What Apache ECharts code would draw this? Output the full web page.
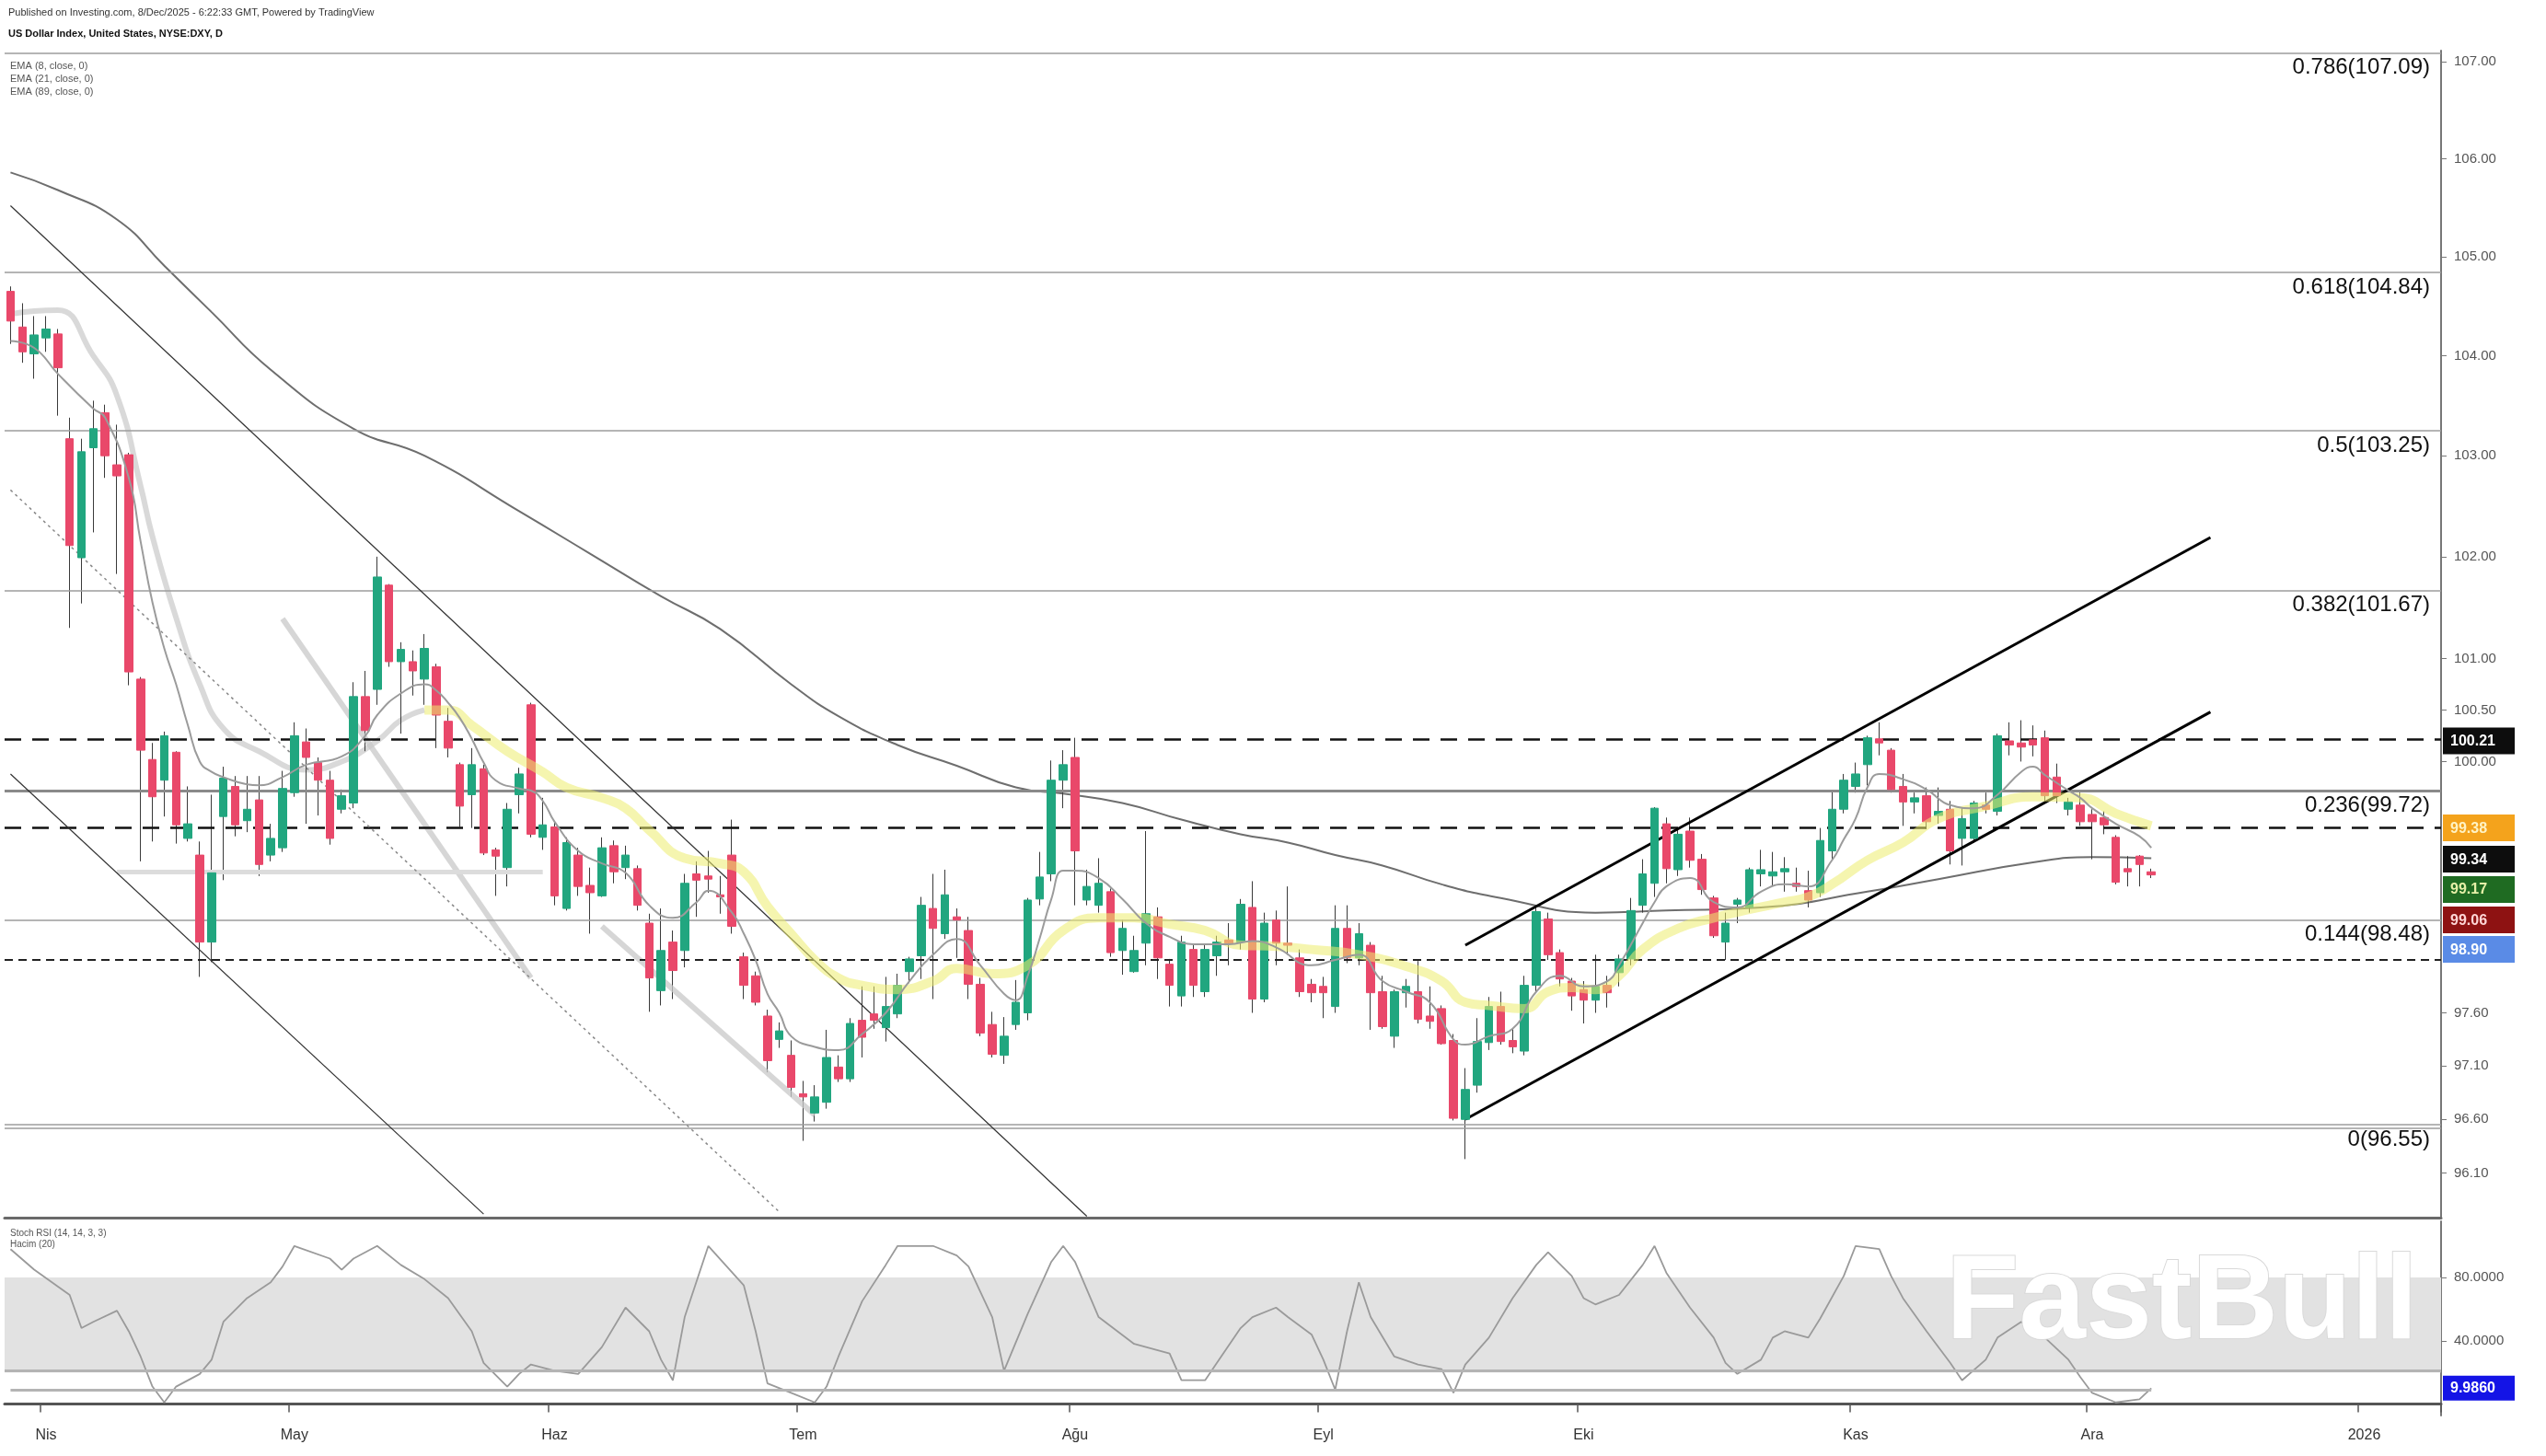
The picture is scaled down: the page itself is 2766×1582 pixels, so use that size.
<!DOCTYPE html>
<html><head><meta charset="utf-8">
<script src="https://cdn.jsdelivr.net/npm/echarts@6/dist/echarts.min.js"></script>
<style>html,body{margin:0;padding:0;background:#fff;}#c{width:2766px;height:1582px;}</style>
</head><body><div id="c"></div>
<script>
// ---------- categories ----------
const startDate = '2025-03-27';
const closedDays = ['2025-04-18'];
const slotCount = 206;
function buildDates(){
  const out=[]; let d=new Date(startDate+'T00:00:00Z');
  while(out.length<slotCount){
    const s=d.toISOString().slice(0,10), wd=d.getUTCDay();
    if(wd!==0 && wd!==6 && closedDays.indexOf(s)<0) out.push(s);
    d=new Date(d.getTime()+86400000);
  }
  return out;
}
const dates = buildDates();
const monthNames = ['Oca','Şub','Mar','Nis','May','Haz','Tem','Ağu','Eyl','Eki','Kas','Ara'];

// ---------- OHLC ----------
const opens = [
104.65,104.29,104.02,104.18,104.22,103.17,101.99,103.08,103.43,102.91,
103.01,100.80,100.02,99.82,100.09,99.26,99.10,98.27,99.47,99.76,
99.43,99.63,99.10,99.17,99.70,100.19,99.99,99.82,99.54,99.60,
100.63,100.70,101.72,100.97,100.97,100.80,100.92,100.39,99.97,99.68,
99.93,99.15,98.98,99.68,100.55,99.27,99.37,98.59,99.10,98.81,
98.71,99.19,98.98,98.97,98.45,97.81,98.27,98.19,98.92,98.90,
98.72,99.10,98.13,97.95,97.57,97.35,97.20,96.84,96.66,96.76,
97.09,96.98,97.53,97.59,97.46,97.59,97.99,98.14,98.59,98.35,
98.51,98.38,97.87,97.49,97.20,97.49,97.60,98.68,98.92,99.82,
100.04,98.67,98.62,98.75,98.19,97.99,98.26,98.51,98.06,97.76,
98.20,97.80,98.14,98.29,98.27,98.60,97.73,98.48,98.26,98.12,
97.87,97.85,97.66,98.40,98.12,98.24,97.80,97.38,97.79,97.80,
97.57,97.64,97.34,96.60,96.92,97.32,97.66,97.34,97.24,97.86,
98.49,98.17,97.90,97.82,97.72,97.86,97.98,98.11,98.62,98.83,
99.40,98.96,99.33,99.06,98.69,98.27,98.63,98.60,98.92,98.90,
98.94,98.83,98.76,98.74,99.14,99.54,99.76,99.97,100.22,100.11,
99.76,99.61,99.67,99.48,99.54,99.26,99.26,99.58,99.52,100.20,
100.18,100.21,100.23,99.85,99.54,99.58,99.49,99.46,99.27,98.97,
99.09,98.94];
const highs = [
104.70,104.53,104.40,104.40,104.27,103.38,103.17,103.55,103.51,103.31,
103.03,100.82,100.18,100.29,100.10,99.76,99.23,99.68,99.95,99.86,
99.86,99.86,99.40,99.91,100.38,100.32,100.04,99.91,99.73,100.77,
100.88,102.00,101.73,101.16,101.08,101.24,100.95,100.52,99.99,100.13,
99.97,99.17,99.60,99.94,100.57,99.65,99.41,99.27,99.17,98.98,
99.27,99.24,99.19,99.00,98.54,98.59,98.38,98.92,99.04,99.14,
98.90,99.44,98.17,97.99,97.63,97.51,97.34,96.96,96.92,97.44,
97.20,97.55,97.85,97.85,97.94,97.97,98.13,98.70,98.92,98.96,
98.59,98.51,97.93,97.61,97.56,97.91,98.69,99.13,100.01,100.11,
100.23,98.96,99.07,98.78,98.48,98.33,99.33,98.60,98.11,98.33,
98.25,98.25,98.33,98.45,98.68,98.85,98.55,98.57,98.80,98.20,
97.92,97.94,98.62,98.62,98.45,98.27,97.95,97.82,97.92,98.09,
97.85,97.67,97.40,97.08,97.55,97.75,97.80,97.45,97.95,98.60,
98.55,98.20,97.93,97.90,98.15,97.95,98.15,98.69,99.06,99.56,
99.46,99.35,99.46,99.11,98.71,98.55,98.69,98.98,99.15,99.13,
99.08,98.98,98.95,99.36,99.72,99.88,99.99,100.25,100.38,100.13,
99.88,99.70,99.75,99.75,99.62,99.55,99.62,99.70,100.27,100.38,
100.40,100.35,100.30,99.98,99.65,99.70,99.54,99.52,99.29,99.09,
99.10,98.97];
const lows = [
104.12,103.93,103.77,104.04,103.40,101.30,101.54,102.24,102.78,101.83,
100.74,99.04,99.23,99.47,99.21,99.23,97.94,98.08,98.86,99.28,
99.32,98.90,99.04,99.13,99.66,99.40,99.48,99.20,99.50,99.55,
100.10,100.55,100.92,100.27,100.64,100.55,100.13,100.04,99.37,99.36,
99.10,98.71,98.80,99.50,99.27,99.15,98.62,98.57,98.71,98.35,
98.70,98.83,98.87,98.57,97.61,97.67,97.73,98.03,98.51,98.74,
98.54,98.35,97.73,97.67,97.04,97.27,96.81,96.40,96.58,96.70,
96.95,96.95,97.18,97.45,97.33,97.55,97.88,97.92,97.73,98.30,
98.12,97.73,97.38,97.18,97.12,97.44,97.53,98.62,98.85,99.55,
98.62,98.62,98.55,98.13,97.96,97.98,98.05,97.92,97.66,97.66,
97.75,97.75,97.95,98.05,98.20,97.60,97.70,98.05,98.15,97.75,
97.70,97.55,97.60,98.07,98.05,97.44,97.45,97.27,97.65,97.50,
97.45,97.30,96.59,96.23,96.85,97.25,97.30,97.22,97.20,97.80,
98.10,97.85,97.62,97.50,97.60,97.65,97.85,98.05,98.55,98.70,
98.83,98.90,98.98,98.72,98.31,98.10,98.45,98.55,98.80,98.80,
98.75,98.75,98.60,98.70,99.05,99.50,99.70,99.77,100.06,99.70,
99.38,99.50,99.35,99.40,99.01,99.00,99.22,99.50,99.48,100.06,
100.00,100.05,99.60,99.60,99.48,99.38,99.06,99.30,98.82,98.80,
98.80,98.88];
const closes = [
104.35,104.04,104.21,104.27,103.88,102.11,103.04,103.27,103.00,102.80,
100.87,100.11,99.66,100.25,99.39,99.40,98.27,98.93,99.84,99.39,
99.54,99.01,99.26,99.74,100.25,100.04,99.82,99.26,99.67,100.63,
100.30,101.80,100.97,101.09,100.88,101.10,100.45,100.13,99.57,99.97,
99.12,99.09,99.54,99.88,99.30,99.39,98.71,99.22,98.80,98.74,
99.17,98.94,99.10,98.62,97.93,98.19,98.00,98.83,98.86,98.87,
98.70,98.42,97.86,97.70,97.15,97.43,96.90,96.81,96.81,97.18,
96.98,97.50,97.37,97.53,97.66,97.86,98.11,98.62,98.40,98.72,
98.48,97.87,97.41,97.21,97.38,97.70,98.67,98.89,99.82,99.97,
99.14,98.80,98.83,98.17,98.40,98.19,98.54,98.12,97.86,98.27,
97.86,98.20,98.27,98.26,98.63,97.73,98.45,98.26,98.24,97.80,
97.79,97.79,98.40,98.12,98.35,97.79,97.47,97.80,97.85,97.54,
97.52,97.31,96.61,96.88,97.33,97.66,97.33,97.28,97.86,98.56,
98.15,97.92,97.76,97.72,97.85,97.79,98.11,98.57,98.92,99.55,
98.97,99.30,99.05,98.77,98.33,98.45,98.67,98.96,98.96,98.94,
98.97,98.80,98.67,99.24,99.54,99.82,99.88,100.23,100.18,99.73,
99.61,99.65,99.42,99.52,99.14,99.45,99.60,99.54,100.25,100.16,
100.14,100.16,99.67,99.67,99.61,99.42,99.42,99.39,98.84,98.94,
99.01,98.91];

// ---------- indicator lines [barIndex, value] ----------
const ema8 = [[0,104.15],[2,104.08],[4,103.82],[7,103.47],[8,103.38],[10,102.78],[11,102.15],[12,101.55],[13,101.1],[14,100.75],[15,100.35],[16,100.0],[17,99.9],[18,99.85],[20,99.78],[21,99.77],[23,99.85],[25,99.97],[28,100.05],[30,100.25],[31,100.45],[33,100.66],[35,100.75],[36,100.69],[37,100.57],[38,100.42],[39,100.22],[40,99.99],[41,99.82],[43,99.74],[44,99.72],[45,99.62],[46,99.42],[48,99.14],[50,99.02],[52,98.93],[54,98.62],[56,98.50],[58,98.65],[59,98.76],[61,98.55],[62,98.35],[63,98.10],[64,97.78],[65,97.60],[66,97.38],[68,97.28],[70,97.25],[72,97.40],[74,97.60],[76,97.90],[78,98.15],[80,98.30],[82,98.05],[84,97.78],[85,97.72],[86,97.95],[87,98.30],[88,98.68],[89,98.95],[90,98.95],[92,98.88],[94,98.68],[96,98.45],[98,98.32],[100,98.25],[103,98.25],[105,98.28],[107,98.22],[110,98.05],[112,98.10],[114,98.15],[116,97.90],[118,97.80],[120,97.70],[122,97.35],[123,97.30],[125,97.38],[127,97.45],[129,97.80],[131,97.95],[133,97.85],[135,97.90],[136,98.05],[138,98.45],[139,98.65],[140,98.80],[142,98.88],[144,98.65],[146,98.60],[148,98.75],[150,98.82],[152,98.80],[154,99.05],[155,99.25],[156,99.45],[157,99.75],[158,99.88],[160,99.83],[162,99.73],[164,99.58],[166,99.55],[168,99.68],[170,99.90],[171,99.95],[172,99.87],[174,99.72],[175,99.65],[176,99.55],[178,99.40],[180,99.28],[181,99.17]];
const ema21 = [[0,104.42],[2,104.45],[4,104.46],[7,104.0],[9,103.6],[11,102.7],[12,102.2],[14,101.4],[16,100.75],[18,100.32],[21,100.1],[25,99.92],[28,100.0],[31,100.2],[33,100.4],[35,100.5],[37,100.5],[39,100.35],[42,100.1],[45,99.9],[47,99.75],[50,99.65],[52,99.55],[54,99.34],[57,99.07],[60,99.02],[62,98.94],[64,98.61],[66,98.35],[68,98.10],[70,97.93],[72,97.86],[75,97.82],[78,97.90],[80,98.02],[83,97.97],[86,98.05],[89,98.38],[92,98.50],[95,98.50],[98,98.44],[101,98.38],[104,98.24],[107,98.23],[110,98.20],[114,98.15],[118,98.04],[121,97.90],[123,97.70],[125,97.67],[128,97.64],[130,97.80],[132,97.84],[134,97.82],[136,97.95],[138,98.20],[141,98.40],[144,98.50],[147,98.58],[150,98.65],[152,98.70],[154,98.82],[157,99.05],[160,99.22],[163,99.45],[167,99.57],[171,99.66],[175,99.65],[178,99.50],[181,99.38]];
const ema89 = [[0,105.86],[4,105.68],[9,105.38],[13,104.91],[17,104.44],[22,103.86],[29,103.27],[35,103.00],[43,102.45],[49,102.03],[55,101.61],[60,101.29],[66,100.75],[70,100.44],[75,100.16],[80,99.96],[85,99.75],[89,99.69],[94,99.60],[99,99.44],[104,99.30],[108,99.22],[112,99.10],[116,99.00],[121,98.82],[126,98.69],[134,98.55],[140,98.57],[148,98.60],[157,98.75],[163,98.87],[171,99.03],[176,99.08],[181,99.07]];
const stochK = [[0,98],[2,85],[5,69],[6,48],[7,52],[9,59],[10,46],[11,30],[12,11],[13,1],[14,11],[16,19],[17,28],[18,52],[20,67],[22,77],[23,87],[24,100],[27,92],[28,85],[29,92],[31,100],[33,88],[35,79],[37,67],[39,46],[40,26],[42,11],[43,19],[44,25],[46,21],[48,19],[50,36],[52,61],[54,46],[55,28],[56,15],[57,55],[59,100],[62,75],[63,46],[64,13],[66,7],[68,1],[69,11],[70,30],[72,65],[74,88],[75,100],[78,100],[80,94],[81,87],[83,55],[84,21],[86,57],[88,90],[89,100],[90,90],[92,55],[95,38],[98,32],[99,15],[101,15],[102,26],[104,48],[105,55],[107,61],[108,55],[110,44],[111,28],[112,9],[113,46],[114,77],[115,55],[117,30],[119,25],[121,22],[122,7],[123,25],[125,42],[127,67],[129,88],[130,96],[132,81],[133,67],[134,63],[136,69],[138,88],[139,100],[140,83],[142,61],[144,42],[145,26],[146,19],[148,28],[149,42],[150,46],[152,42],[153,54],[155,81],[156,100],[158,98],[159,81],[160,67],[162,46],[164,26],[165,15],[167,28],[168,42],[170,52],[172,42],[174,28],[175,17],[176,7],[178,1],[180,3],[181,10]];

// ---------- drawn levels ----------
const fibNames  = ['0.786','0.618','0.5','0.382','0.236','0.144','0'];
const fibPrices = [107.09,104.84,103.25,101.67,99.72,98.48,96.55];
const extraSupport = 96.52;
const dashedLevels = [100.22, 99.36];
const dottedLevel = 98.10;
const shelfLine = [[9,98.94],[45,98.94]];
const downLineA = [[0,105.52],[91,95.70]];
const downLineB = [[0,99.88],[40,95.72]];
const downLineC = [[0,102.66],[65,95.74]];
const fanLine1 = [[23,101.39],[44,97.93]];
const fanLine2 = [[50,98.42],[68,96.64]];
const upLower = [[123,96.60],[186,100.48]];
const upUpper = [[123,98.24],[186,102.19]];
const priceTicks = [107,106,105,104,103,102,101,100.5,100,97.6,97.1,96.6,96.1];
const rsiTicks = [80,40];
const tagTexts = ['100.21','99.38','99.34','99.17','99.06','98.90'];
const rsiTagText = '9.9860';
const rsiLastValue = 9.986;

// ---------- layout / style (not data) ----------
const tagPlace = [100.20, 99.36, 99.06, 98.77, 98.48, 98.20];
const tagBg = ['#0d0d0d','#f4a31c','#0d0d0d','#1f6b22','#8e1212','#5a8be6'];
const tagFg = ['#ffffff','#fff3c4','#ffffff','#e6f0a8','#ffd6d6','#ffffff'];
const UP='#21a67f', DOWN='#e9486a', WICK='#3a3a3a';
const L = Math.log;
const yMin = L(95.687), yMax = L(107.114);
const ema21GraySplit = 35;

const wickData = closes.map((c,i)=>[L(opens[i]),L(c),L(lows[i]),L(highs[i])]);
const bodyData = closes.map((c,i)=>[L(opens[i]),L(c),L(Math.min(opens[i],c)),L(Math.max(opens[i],c))]);
const toLn = a => a.map(p=>[p[0], L(p[1])]);
const seg = (a, style) => [{coord:[a[0][0], L(a[0][1])], lineStyle:style},{coord:[a[1][0], L(a[1][1])]}];

const isMonthStart = dates.map((d,i)=> i>0 && d.slice(5,7)!==dates[i-1].slice(5,7));
const FONT = 'Liberation Sans, Arial, sans-serif';

const fibMarks = fibPrices.map((p,i)=>({
  yAxis: L(p),
  lineStyle:{color: i===4 ? '#8a8a8a' : '#9c9c9c', width: i===4 ? 3 : 1.5, type:'solid'},
  label:{show:true, position:'insideEndBottom', formatter: fibNames[i]+'('+p.toFixed(2)+')',
         fontSize:24, color:'#111', fontFamily:FONT, distance:[12,4]}
}));
const lightStyle = {color:'rgba(200,200,200,0.75)', width:6, type:'solid'};
const lvlMarks = [
  seg(fanLine1, lightStyle),
  seg(fanLine2, lightStyle),
  seg(shelfLine, {color:'#dcdcdc', width:5, type:'solid'}),
  ...fibMarks,
  {yAxis:L(extraSupport), lineStyle:{color:'#9c9c9c', width:1.5, type:'solid'}},
  ...dashedLevels.map(p=>({yAxis:L(p), lineStyle:{color:'#111', width:2.5, type:[18,12]}})),
  {yAxis:L(dottedLevel), lineStyle:{color:'#222', width:1.8, type:[9,6]}},
  seg(downLineA, {color:'#333', width:1.2, type:'solid'}),
  seg(downLineB, {color:'#333', width:1.2, type:'solid'}),
  seg(downLineC, {color:'#888', width:1.5, type:[3,4]}),
  seg(upLower, {color:'#000', width:3, type:'solid'}),
  seg(upUpper, {color:'#000', width:3, type:'solid'})
];

const tagRich = {};
tagTexts.forEach((t,i)=>{ tagRich['t'+i]={backgroundColor:tagBg[i], color:tagFg[i], padding:[7,8,6,8], fontSize:16, fontWeight:'bold', fontFamily:FONT, width:62}; });

const ema21Ln = toLn(ema21);
const chart = echarts.init(document.getElementById('c'), null, {renderer:'canvas'});
chart.setOption({
  animation:false,
  backgroundColor:'#ffffff',
  grid:[{left:5, top:55, width:2647, height:1268},{left:5, top:1327, width:2647, height:211}],
  xAxis:[
    {type:'category', gridIndex:0, data:dates, boundaryGap:true,
     axisLine:{show:true, lineStyle:{color:'#6a6a6a', width:3}}, axisTick:{show:false}, axisLabel:{show:false}, splitLine:{show:false}},
    {type:'category', gridIndex:1, data:dates, boundaryGap:true,
     axisLine:{show:true, lineStyle:{color:'#555', width:3}},
     axisTick:{show:true, interval:(i)=>isMonthStart[i], length:9, lineStyle:{color:'#555', width:1.5}},
     axisLabel:{show:true, interval:(i)=>isMonthStart[i], margin:14, fontSize:16, color:'#333', fontFamily:FONT,
       formatter:(v)=>{const m=+v.slice(5,7); return m===1 ? v.slice(0,4) : monthNames[m-1];}},
     splitLine:{show:false}}
  ],
  yAxis:[
    {type:'value', gridIndex:0, position:'right', min:yMin, max:yMax, splitLine:{show:false},
     axisLine:{show:true, lineStyle:{color:'#777', width:2}},
     axisTick:{show:true, customValues:priceTicks.map(L), length:6, lineStyle:{color:'#777'}},
     axisLabel:{show:true, customValues:priceTicks.map(L), margin:14, fontSize:15, color:'#555', fontFamily:FONT,
       formatter:(v)=>Math.exp(v).toFixed(2)}},
    {type:'value', gridIndex:0, position:'right', min:yMin, max:yMax, splitLine:{show:false},
     axisLine:{show:false}, axisTick:{show:false},
     axisLabel:{show:true, customValues:tagPlace.map(L), margin:2, rich:tagRich,
       formatter:(v)=>{let k=0,b=1e9; tagPlace.forEach((p,i)=>{const d=Math.abs(L(p)-v); if(d<b){b=d;k=i;}}); return '{t'+k+'|'+tagTexts[k]+'}';}}},
    {type:'value', gridIndex:1, position:'right', min:-7.3, max:115.6, splitLine:{show:false},
     axisLine:{show:true, lineStyle:{color:'#777', width:2}},
     axisTick:{show:true, customValues:rsiTicks, length:6, lineStyle:{color:'#777'}},
     axisLabel:{show:true, customValues:rsiTicks, margin:14, fontSize:15, color:'#555', fontFamily:FONT, formatter:(v)=>v.toFixed(4)}},
    {type:'value', gridIndex:1, position:'right', min:-7.3, max:115.6, splitLine:{show:false},
     axisLine:{show:false}, axisTick:{show:false},
     axisLabel:{show:true, customValues:[rsiLastValue], margin:2,
       rich:{b:{backgroundColor:'#1414e6', color:'#fff', padding:[6,8,5,8], fontSize:16, fontWeight:'bold', fontFamily:FONT, width:62}},
       formatter:()=>'{b|'+rsiTagText+'}'}}
  ],
  series:[
    {type:'line', xAxisIndex:0, yAxisIndex:0, data:toLn(ema89), smooth:true, symbol:'none', z:3,
     lineStyle:{color:'#6e6e6e', width:2},
     markLine:{silent:true, precision:10, symbol:['none','none'], label:{show:false}, data:lvlMarks}},
    {type:'line', xAxisIndex:0, yAxisIndex:0, data:ema21Ln.filter(p=>p[0]<=ema21GraySplit), smooth:true, symbol:'none', z:3,
     lineStyle:{color:'rgba(210,210,210,0.85)', width:6}},
    {type:'candlestick', name:'wick', xAxisIndex:0, yAxisIndex:0, data:wickData, barWidth:1, z:4,
     itemStyle:{color:WICK, color0:WICK, borderColor:WICK, borderColor0:WICK, borderWidth:1}},
    {type:'candlestick', name:'body', xAxisIndex:0, yAxisIndex:0, data:bodyData, barWidth:9, z:5,
     itemStyle:{color:UP, color0:DOWN, borderColor:UP, borderColor0:DOWN, borderWidth:1}},
    {type:'line', xAxisIndex:0, yAxisIndex:0, data:ema21Ln.filter(p=>p[0]>=ema21GraySplit), smooth:true, symbol:'none', z:6,
     lineStyle:{color:'rgba(236,236,110,0.55)', width:10}},
    {type:'line', xAxisIndex:0, yAxisIndex:0, data:toLn(ema8), smooth:true, symbol:'none', z:7,
     lineStyle:{color:'#9b9b9b', width:2}},
    {type:'line', xAxisIndex:1, yAxisIndex:2, data:stochK, symbol:'none', z:4,
     lineStyle:{color:'#9a9a9a', width:1.8},
     markArea:{silent:true, itemStyle:{color:'#e2e2e2'}, data:[[{yAxis:20},{yAxis:80}]]},
     markLine:{silent:true, precision:10, symbol:['none','none'], label:{show:false}, data:[
       {yAxis:21, lineStyle:{color:'#b4b4b4', width:3, type:'solid'}},
       [{coord:[0,9], lineStyle:{color:'#b4b4b4', width:3, type:'solid'}},{coord:[181,9]}]
     ]}}
  ],
  graphic:[
    {type:'text', left:9, top:8, style:{text:'Published on Investing.com, 8/Dec/2025 - 6:22:33 GMT, Powered by TradingView', font:'11px '+FONT, fill:'#333'}},
    {type:'text', left:9, top:31, style:{text:'US Dollar Index, United States, NYSE:DXY, D', font:'bold 11px '+FONT, fill:'#111'}},
    {type:'text', left:11, top:66, style:{text:'EMA (8, close, 0)', font:'11px '+FONT, fill:'#555'}},
    {type:'text', left:11, top:80, style:{text:'EMA (21, close, 0)', font:'11px '+FONT, fill:'#555'}},
    {type:'text', left:11, top:94, style:{text:'EMA (89, close, 0)', font:'11px '+FONT, fill:'#555'}},
    {type:'text', left:11, top:1335, style:{text:'Stoch RSI (14, 14, 3, 3)', font:'10px '+FONT, fill:'#555'}},
    {type:'text', left:11, top:1347, style:{text:'Hacim (20)', font:'10px '+FONT, fill:'#555'}},
    {type:'text', left:2113, top:1352, z:100, style:{text:'FastBull', font:'bold 130px '+FONT, fill:'#ffffff', stroke:'#d9d9d9', lineWidth:2, shadowBlur:6, shadowColor:'rgba(0,0,0,0.15)'}}
  ]
});
</script></body></html>
